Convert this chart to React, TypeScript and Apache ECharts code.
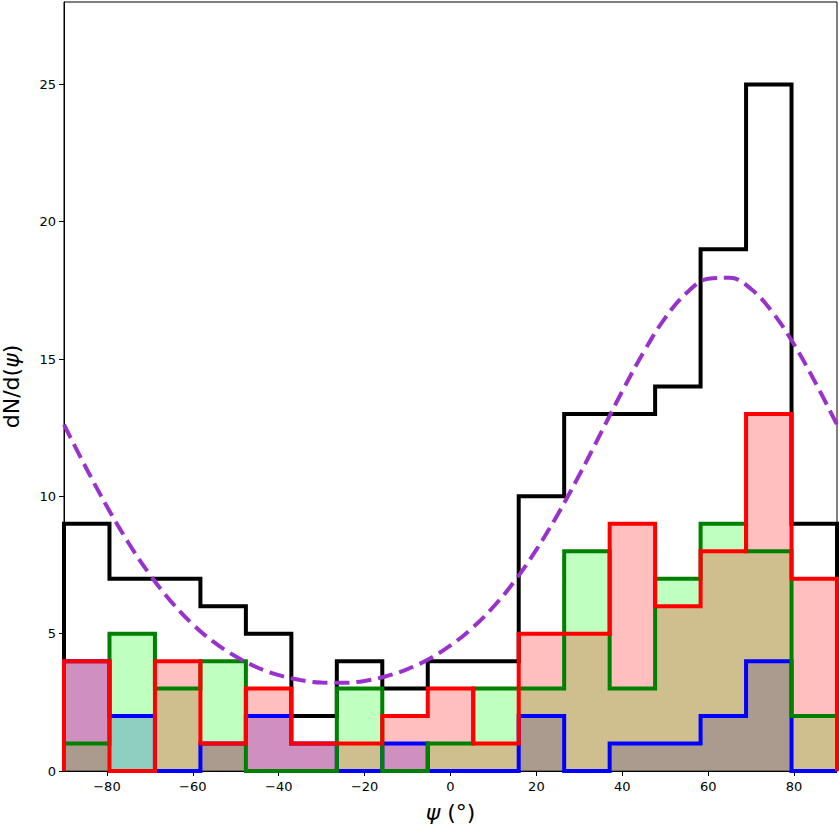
import React, { useEffect, useRef } from "react";
import * as echarts from "echarts";

const BIN_COUNT = 17;
const X_MIN = -90;
const X_MAX = 90;
const totalCounts = [9, 7, 7, 6, 5, 2, 4, 3, 4, 4, 10, 13, 13, 14, 19, 25, 9];
const blueCounts = [4, 2, 0, 1, 2, 1, 0, 1, 0, 0, 2, 0, 1, 1, 2, 4, 0];
const greenCounts = [1, 5, 3, 4, 0, 0, 3, 0, 1, 3, 3, 8, 3, 7, 9, 8, 2];
const redCounts = [4, 0, 4, 1, 3, 1, 1, 2, 3, 1, 5, 5, 9, 6, 8, 13, 7];
const curveX = [-90, -85, -80, -75, -70, -65, -60, -55, -50, -45, -40, -35, -30, -25, -20, -15, -10, -5, 0, 5, 10, 15, 20, 25, 30, 35, 40, 45, 50, 55, 60, 65, 70, 75, 80, 85, 90];
const curveY = [12.61, 11.08, 9.63, 8.31, 7.15, 6.16, 5.34, 4.68, 4.17, 3.77, 3.49, 3.31, 3.22, 3.21, 3.28, 3.45, 3.71, 4.08, 4.57, 5.2, 5.98, 6.93, 8.06, 9.35, 10.78, 12.3, 13.83, 15.26, 16.5, 17.41, 17.92, 17.96, 17.55, 16.7, 15.53, 14.13, 12.61];
const xTicks = [-80, -60, -40, -20, 0, 20, 40, 60, 80];
const yTicks = [0, 5, 10, 15, 20, 25];

const binEdges = Array.from({ length: BIN_COUNT + 1 }, (_, i) => X_MIN + (i * (X_MAX - X_MIN)) / BIN_COUNT);

function stepData(counts: number[]) {
  const d: number[][] = [[X_MIN, 0]];
  counts.forEach((c, i) => d.push([binEdges[i], c]));
  d.push([X_MAX, counts[counts.length - 1]]);
  d.push([X_MAX, 0]);
  return d;
}

function fillSeries(counts: number[], color: string) {
  return {
    type: "line",
    step: "end",
    data: stepData(counts),
    symbol: "none",
    silent: true,
    lineStyle: { width: 0, opacity: 0 },
    areaStyle: { color, opacity: 1 },
  };
}

function edgeSeries(counts: number[], color: string) {
  return {
    type: "line",
    step: "end",
    data: stepData(counts),
    symbol: "none",
    silent: true,
    lineStyle: { width: 4, color, join: "miter", cap: "butt" },
  };
}

const fmt = (v: number) => (v < 0 ? "\u2212" + Math.abs(v) : String(v));

export default function App() {
  const ref = useRef<HTMLDivElement>(null);
  useEffect(() => {
    if (!ref.current) return;
    const chart = echarts.init(ref.current, null, { renderer: "svg" });
    const font = "DejaVu Sans";
    chart.setOption({
      animation: false,
      backgroundColor: "#ffffff",
      grid: {
        left: 64,
        right: 2,
        top: 2,
        bottom: 60,
        containLabel: false,
        outerBoundsMode: "none",
        show: true,
        borderColor: "#000",
        borderWidth: 1,
        backgroundColor: "transparent",
      },
      xAxis: {
        type: "value",
        min: X_MIN,
        max: X_MAX,
        splitLine: { show: false },
        axisLine: { show: true, onZero: false, lineStyle: { color: "#000", width: 1 } },
        axisTick: { show: true, customValues: xTicks, length: 5, lineStyle: { color: "#000" } },
        axisLabel: {
          customValues: xTicks,
          formatter: fmt,
          color: "#000",
          fontFamily: font,
          fontSize: 13,
          margin: 9,
        },
        name: "{i|ψ}{n| (°)}",
        nameLocation: "middle",
        nameGap: 30,
        nameTextStyle: {
          rich: {
            i: { fontFamily: font, fontStyle: "italic", fontSize: 22, color: "#000" },
            n: { fontFamily: font, fontSize: 22, color: "#000" },
          },
        },
      },
      yAxis: {
        type: "value",
        min: 0,
        max: 28,
        splitLine: { show: false },
        axisLine: { show: true, onZero: false, lineStyle: { color: "#000", width: 1 } },
        axisTick: { show: true, customValues: yTicks, length: 5, lineStyle: { color: "#000" } },
        axisLabel: {
          customValues: yTicks,
          color: "#000",
          fontFamily: font,
          fontSize: 13,
          margin: 8,
        },
        name: "{n|dN/d(}{i|ψ}{n|)}",
        nameLocation: "middle",
        nameGap: 42,
        nameTextStyle: {
          rich: {
            i: { fontFamily: font, fontStyle: "italic", fontSize: 22, color: "#000" },
            n: { fontFamily: font, fontSize: 22, color: "#000" },
          },
        },
      },
      series: [
        fillSeries(blueCounts, "rgba(0,0,255,0.25)"),
        fillSeries(greenCounts, "rgba(0,255,0,0.25)"),
        fillSeries(redCounts, "rgba(255,0,0,0.25)"),
        edgeSeries(totalCounts, "#000000"),
        edgeSeries(blueCounts, "#0000ff"),
        edgeSeries(greenCounts, "#008000"),
        edgeSeries(redCounts, "#ff0000"),
        {
          type: "line",
          data: curveX.map((x, i) => [x, curveY[i]]),
          smooth: 0.4,
          symbol: "none",
          silent: true,
          lineStyle: { color: "#9932CC", width: 4, type: [15, 7] },
        },
      ],
    });
    return () => chart.dispose();
  }, []);
  return (
    <div
      ref={ref}
      style={{ position: "fixed", left: 0, top: 0, width: 839, height: 831 }}
    />
  );
}
